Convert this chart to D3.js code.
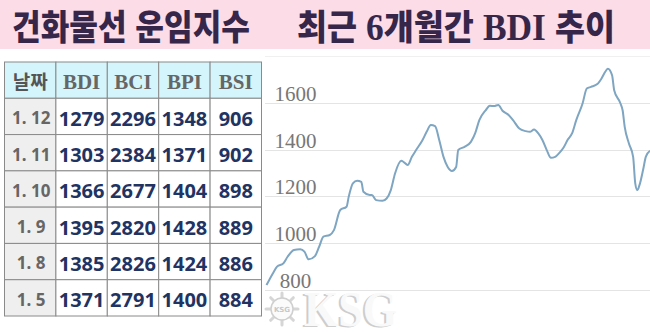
<!DOCTYPE html>
<html lang="ko">
<head>
<meta charset="utf-8">
<style>
  html, body { margin: 0; padding: 0; background: #fff; }
  svg { display: block; }
</style>
</head>
<body>
<svg id="chart" width="650" height="332"></svg>
<script src="https://cdn.jsdelivr.net/npm/d3@7"></script>
<script>
// ---- data ----
const titleLeft = "건화물선 운임지수"
const titleRight = [["최근 ", "ko"], ["6", "serif"], ["개월간 ", "ko"], ["BDI", "serif"], [" 추이", "ko"]]

const headers = ["날짜", "BDI", "BCI", "BPI", "BSI"]
const dates = ["1. 12", "1. 11", "1. 10", "1. 9", "1. 8", "1. 5"]
const bdi = [1279, 1303, 1366, 1395, 1385, 1371]
const bci = [2296, 2384, 2677, 2820, 2826, 2791]
const bpi = [1348, 1371, 1404, 1428, 1424, 1400]
const bsi = [906, 902, 898, 889, 886, 884]

const yTicks = [800, 1000, 1200, 1400, 1600, 1800]

// approx. day number in the 6 month window and BDI
const days = [0, 3, 5, 8, 10, 13, 16, 18, 20, 23, 25, 27, 30, 32, 35, 38, 39, 41, 43, 45,
  46, 49, 50, 52, 55, 57, 59, 61, 64, 65, 67, 69, 71, 74, 76, 78, 80, 82, 84, 86,
  88, 90, 91, 94, 97, 99, 101, 104, 106, 108, 110, 112, 115, 117, 120, 123, 125, 127, 129, 131,
  133, 135, 137, 139, 141, 143, 145, 147, 150, 152, 154, 157, 159, 161, 162, 164, 165, 168, 169, 170,
  172, 174, 175, 176, 177, 179, 180, 182]
const bdiLine = [821, 871, 900, 914, 942, 971, 974, 964, 931, 945, 985, 1028, 1035, 1056, 1142, 1156, 1198, 1256, 1267, 1262,
  1220, 1206, 1206, 1184, 1181, 1191, 1227, 1298, 1352, 1348, 1334, 1369, 1398, 1440, 1476, 1505, 1500, 1440, 1369, 1326,
  1309, 1326, 1398, 1412, 1433, 1469, 1526, 1568, 1587, 1586, 1591, 1566, 1547, 1526, 1490, 1479, 1476, 1486, 1469, 1440,
  1398, 1365, 1369, 1386, 1409, 1443, 1469, 1526, 1597, 1661, 1668, 1680, 1704, 1736, 1746, 1718, 1654, 1597, 1568, 1497,
  1426, 1369, 1256, 1227, 1248, 1326, 1369, 1395]

const svg = d3.select("#chart")

// ---- title band ----
svg.append("rect")
  .attr("x", 0).attr("y", 0)
  .attr("width", 650).attr("height", 49)
  .attr("fill", "#fbdce7")

const koFont = "'Noto Sans CJK KR', 'Noto Sans', sans-serif"
const serifFont = "'Liberation Serif', 'Times New Roman', serif"

svg.append("text")
  .attr("x", 12).attr("y", 40)
  .attr("textLength", 238).attr("lengthAdjust", "spacingAndGlyphs")
  .style("font-family", koFont).style("font-weight", 900).style("font-size", "35px")
  .attr("fill", "#36264a")
  .text(titleLeft)

svg.append("text")
  .attr("x", 297).attr("y", 40)
  .attr("textLength", 318).attr("lengthAdjust", "spacingAndGlyphs")
  .style("font-size", "35px")
  .attr("fill", "#36264a")
  .selectAll("tspan")
  .data(titleRight)
  .join("tspan")
    .style("font-family", d => d[1] === "serif" ? serifFont : koFont)
    .style("font-weight", d => d[1] === "serif" ? 700 : 900)
    .style("font-size", d => d[1] === "serif" ? "38px" : "35px")
    .text(d => d[0])

// ---- table ----
const rows = dates.map((d, i) => [d, bdi[i], bci[i], bpi[i], bsi[i]])

const col = d3.scaleBand().domain(d3.range(headers.length)).range([4.5, 261.5])
const row = d3.scaleBand().domain(d3.range(rows.length + 1)).range([62, 316])

const table = svg.append("g").attr("class", "table")

// header
const head = table.append("g")
head.selectAll("rect")
  .data(headers)
  .join("rect")
    .attr("x", (d, i) => col(i)).attr("y", row(0))
    .attr("width", col.bandwidth()).attr("height", row.bandwidth())
    .attr("fill", "#d4f5fb").attr("stroke", "#8a8a8a").attr("stroke-width", 1)
head.selectAll("text")
  .data(headers)
  .join("text")
    .attr("x", (d, i) => col(i) + col.bandwidth() / 2)
    .attr("y", row(0) + 27)
    .attr("text-anchor", "middle")
    .style("font-family", (d, i) => i === 0 ? koFont : serifFont)
    .style("font-weight", 700)
    .style("font-size", (d, i) => i === 0 ? "19px" : "21px")
    .attr("fill", (d, i) => i === 0 ? "#555" : "#666")
    .text(d => d)

// body
const body = table.selectAll("g.row")
  .data(rows)
  .join("g")
    .attr("class", "row")
    .attr("transform", (d, i) => `translate(0,${row(i + 1)})`)

body.selectAll("rect")
  .data(d => d)
  .join("rect")
    .attr("x", (d, i) => col(i)).attr("y", 0)
    .attr("width", col.bandwidth()).attr("height", row.bandwidth())
    .attr("fill", (d, i) => i === 0 ? "#efefef" : "#fff")
    .attr("stroke", "#8a8a8a").attr("stroke-width", 1)

body.selectAll("text")
  .data(d => d)
  .join("text")
    .attr("x", (d, i) => col(i) + col.bandwidth() / 2 + (i === 0 ? 1 : 0))
    .attr("y", (d, i) => i === 0 ? 26 : 27.5)
    .attr("text-anchor", "middle")
    .style("font-family", "'Noto Sans', 'DejaVu Sans', sans-serif")
    .style("font-weight", 700)
    .style("font-size", (d, i) => i === 0 ? "17px" : "20px")
    .attr("fill", (d, i) => i === 0 ? "#666" : "#1f3463")
    .text(d => d)

// ---- line chart ----
const x = d3.scaleLinear().domain([0, 182]).range([266.5, 650])
const y = d3.scaleLinear().domain([800, 1800]).range([290, 56])

const grid = svg.append("g").attr("class", "grid")
grid.selectAll("line")
  .data(yTicks)
  .join("line")
    .attr("x1", 265).attr("x2", 650)
    .attr("y1", d => Math.round(y(d)) + 0.5).attr("y2", d => Math.round(y(d)) + 0.5)
    .attr("stroke", d => d === 1800 ? "#f0f0f0" : "#e4e4e4")
    .attr("stroke-width", 1.2)

grid.selectAll("text")
  .data(yTicks.filter(d => d < 1800))
  .join("text")
    .attr("x", 295.5)
    .attr("y", d => y(d) - 2)
    .attr("text-anchor", "middle")
    .style("font-family", serifFont)
    .style("font-size", "21px")
    .attr("fill", "#777")
    .text(d => d)

const line = d3.line()
  .x(d => x(d[0]))
  .y(d => y(d[1]))
  .curve(d3.curveMonotoneX)

svg.append("path")
  .datum(days.map((d, i) => [d, bdiLine[i]]))
  .attr("fill", "none")
  .attr("stroke", "#7ea5c1")
  .attr("stroke-width", 2)
  .attr("stroke-linejoin", "round")
  .attr("d", line)

// ---- KSG watermark ----
const mark = svg.append("g").attr("class", "watermark")
const cx = 282, cy = 309
mark.selectAll("line.spoke")
  .data(d3.range(8))
  .join("line")
    .attr("class", "spoke")
    .attr("x1", cx).attr("y1", cy)
    .attr("x2", i => cx + 16 * Math.cos(i * Math.PI / 4))
    .attr("y2", i => cy + 16 * Math.sin(i * Math.PI / 4))
    .attr("stroke", "#d6d6d6").attr("stroke-width", 3).attr("stroke-linecap", "round")
mark.append("circle")
  .attr("cx", cx).attr("cy", cy).attr("r", 11)
  .attr("fill", "#fbfbfb").attr("stroke", "#cfcfcf").attr("stroke-width", 1.5)
mark.append("text")
  .attr("x", cx).attr("y", cy + 3)
  .attr("text-anchor", "middle")
  .style("font-family", "'DejaVu Sans', sans-serif").style("font-size", "7px").style("font-weight", 700)
  .attr("fill", "#c8c8c8")
  .text("KSG")

// big letters, squeezed a little vertically so they sit under the 800 label
const big = mark.append("g").attr("transform", "translate(0,326) scale(1,1.2)")
big.append("text")
  .attr("x", 302).attr("y", 1)
  .attr("textLength", 93).attr("lengthAdjust", "spacingAndGlyphs")
  .style("font-family", serifFont).style("font-weight", 700).style("font-size", "42px")
  .attr("fill", "#cdcdcd")
  .text("KSG")
big.append("text")
  .attr("x", 304).attr("y", 0)
  .attr("textLength", 93).attr("lengthAdjust", "spacingAndGlyphs")
  .style("font-family", serifFont).style("font-weight", 700).style("font-size", "42px")
  .attr("fill", "#f9f9f9")
  .text("KSG")
</script>
</body>
</html>
